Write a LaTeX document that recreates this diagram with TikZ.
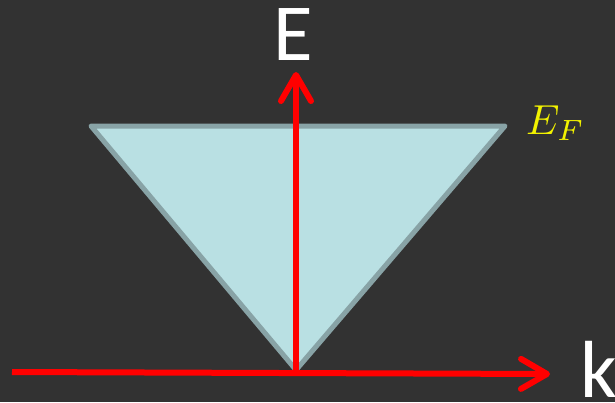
\documentclass[tikz,border=0pt]{standalone}
\usepackage{fontspec}
\newfontfamily\axisfont{Carlito}
\usetikzlibrary{arrows.meta,positioning}
\definecolor{bgdark}{HTML}{323232}
\definecolor{conefill}{HTML}{B9E0E3}
\definecolor{coneedge}{HTML}{88A3A6}
\definecolor{fermiyellow}{HTML}{F2F200}

\begin{document}
\begin{tikzpicture}[
    x=1pt, y=-1pt,
    axislabel/.style={text=white, inner sep=0pt, font=\axisfont\fontsize{81}{81}\selectfont},
    cone/.style={fill=conefill, draw=coneedge, line width=5pt, line join=round},
    axis/.style={draw=red, line width=6pt, -{Straight Barb[length=26pt, width=30pt, round]}}
]
\fill[bgdark] (0,0) rectangle (615,402);
\useasboundingbox (0,0) rectangle (615,402);
\coordinate (origin) at (296,370);
\coordinate (coneleft) at (91,126);
\coordinate (coneright) at (505,126);
\coordinate (kstart) at (12,372);
\coordinate (kend) at (550,374);
\coordinate (etop) at (296,72);
% Dirac cone filled up to the Fermi level
\draw[cone] (coneleft) -- (coneright) -- (origin) -- cycle;
\draw[axis] (origin) -- (etop);
\draw[axis] (kstart) -- (kend);
\node[axislabel, anchor=base] (elabel) at (293,60) {E};
\node[axislabel, anchor=base west] (klabel) at (580,397) {k};
\node[text=fermiyellow, inner sep=0pt, anchor=base west] (fermi) at (526,134) {\scalebox{4.2}{$E_F$}};
\end{tikzpicture}
\end{document}
